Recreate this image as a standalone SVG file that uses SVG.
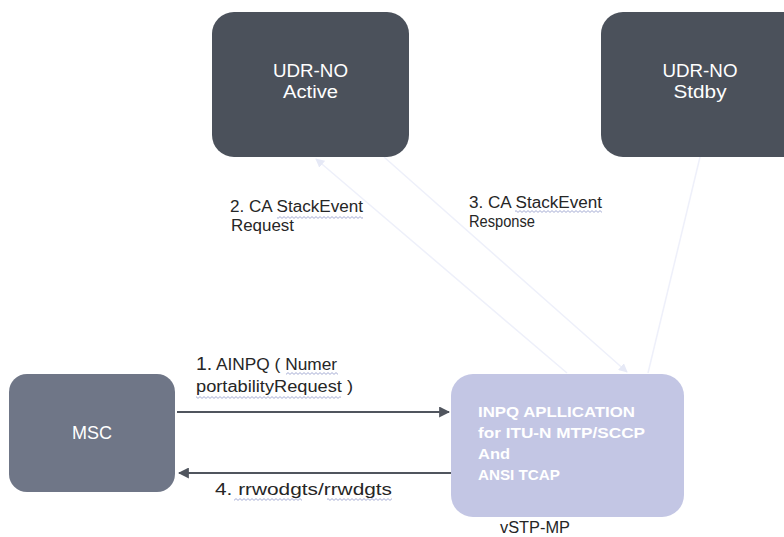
<svg xmlns="http://www.w3.org/2000/svg" width="784" height="537" viewBox="0 0 784 537">
  <defs>
    <marker id="arrDark" viewBox="0 0 10 10" refX="9" refY="5" markerWidth="5" markerHeight="5" orient="auto-start-reverse">
      <path d="M0,0 L10,5 L0,10 z" fill="#50555e"/>
    </marker>
    <marker id="arrFaint" viewBox="0 0 10 10" refX="9" refY="5" markerWidth="6" markerHeight="6" orient="auto-start-reverse">
      <path d="M0,0 L10,5 L0,10 z" fill="#e6e9f6"/>
    </marker>
    <!-- wavy spell-check underline -->
    <pattern id="wave" x="0" y="0" width="4" height="3" patternUnits="userSpaceOnUse">
      <path d="M0,0.6 L2,2.4 L4,0.6" fill="none" stroke="#8f98c8" stroke-width="0.8"/>
    </pattern>
  </defs>
  <style>
    .udr { fill: #4b515b; }
    .msc { fill: #6f7687; }
    .vstp { fill: #c3c6e4; }
    .boxText { font-family: "Liberation Sans", Arial, sans-serif; font-size: 18px; fill: #ffffff; text-anchor: middle; }
    .appText { font-family: "Liberation Sans", Arial, sans-serif; font-size: 15px; font-weight: bold; fill: #ffffff; }
    .label { font-family: "Liberation Sans", Arial, sans-serif; font-size: 16px; fill: #262626; }
    .faint { stroke: #eef0fa; stroke-width: 1.5; fill: none; }
    .msg { stroke: #50555e; stroke-width: 2.2; fill: none; }
    .squiggle { fill: url(#wave); }
  </style>

  <rect width="784" height="537" fill="#ffffff"/>

  <!-- connectors -->
  <g id="connectors">
    <line class="faint" x1="567" y1="373" x2="316" y2="159" marker-end="url(#arrFaint)"/>
    <line class="faint" x1="384" y1="157" x2="627" y2="372" marker-end="url(#arrFaint)"/>
    <line class="faint" x1="700" y1="157" x2="648" y2="373"/>
    <line class="msg" x1="177" y1="412" x2="449" y2="412" marker-end="url(#arrDark)"/>
    <line class="msg" x1="451" y1="473" x2="179" y2="473" marker-end="url(#arrDark)"/>
  </g>

  <!-- nodes -->
  <g id="udr-active">
    <rect class="udr" x="212" y="12" width="197" height="145" rx="22"/>
    <text class="boxText" x="310.5" y="77" textLength="75" lengthAdjust="spacingAndGlyphs">UDR-NO</text>
    <text class="boxText" x="310.5" y="98" textLength="55" lengthAdjust="spacingAndGlyphs">Active</text>
  </g>
  <g id="udr-stdby">
    <rect class="udr" x="601" y="12" width="205" height="145" rx="22"/>
    <text class="boxText" x="700" y="77" textLength="75" lengthAdjust="spacingAndGlyphs">UDR-NO</text>
    <text class="boxText" x="700" y="98" textLength="53" lengthAdjust="spacingAndGlyphs">Stdby</text>
  </g>
  <g id="msc">
    <rect class="msc" x="9" y="374" width="166" height="118" rx="18"/>
    <text class="boxText" x="92" y="439" textLength="40" lengthAdjust="spacingAndGlyphs">MSC</text>
  </g>
  <g id="vstp-mp">
    <rect class="vstp" x="451" y="374" width="233" height="143" rx="22"/>
    <text class="appText" x="478" y="417" textLength="157" lengthAdjust="spacingAndGlyphs">INPQ APLLICATION</text>
    <text class="appText" x="478" y="438" textLength="167" lengthAdjust="spacingAndGlyphs">for ITU-N MTP/SCCP</text>
    <text class="appText" x="478" y="459" textLength="32" lengthAdjust="spacingAndGlyphs">And</text>
    <text class="appText" x="478" y="480" textLength="82" lengthAdjust="spacingAndGlyphs">ANSI TCAP</text>
  </g>

  <!-- message labels -->
  <g id="labels">
    <text class="label" x="230" y="212" textLength="133" lengthAdjust="spacingAndGlyphs">2. CA StackEvent</text>
    <text class="label" x="231" y="231" textLength="63" lengthAdjust="spacingAndGlyphs">Request</text>
    <rect class="squiggle" x="277" y="216" width="86" height="3"/>

    <text class="label" x="469" y="208" textLength="133" lengthAdjust="spacingAndGlyphs">3. CA StackEvent</text>
    <text class="label" x="469" y="227" textLength="66" lengthAdjust="spacingAndGlyphs">Response</text>
    <rect class="squiggle" x="515" y="210" width="87" height="3"/>

    <text class="label" x="196" y="370" textLength="141" lengthAdjust="spacingAndGlyphs"><tspan font-size="18">1.</tspan> AINPQ ( Numer</text>
    <text class="label" x="196" y="392" textLength="157" lengthAdjust="spacingAndGlyphs">portabilityRequest )</text>
    <rect class="squiggle" x="286" y="372" width="52" height="3"/>
    <rect class="squiggle" x="196" y="396" width="145" height="3"/>

    <text class="label" x="215" y="495" textLength="177" lengthAdjust="spacingAndGlyphs">4. rrwodgts/rrwdgts</text>
    <rect class="squiggle" x="234" y="498" width="68" height="3"/>
    <rect class="squiggle" x="327" y="498" width="65" height="3"/>

    <text class="label" x="500" y="533" textLength="70" lengthAdjust="spacingAndGlyphs">vSTP-MP</text>
  </g>
</svg>
